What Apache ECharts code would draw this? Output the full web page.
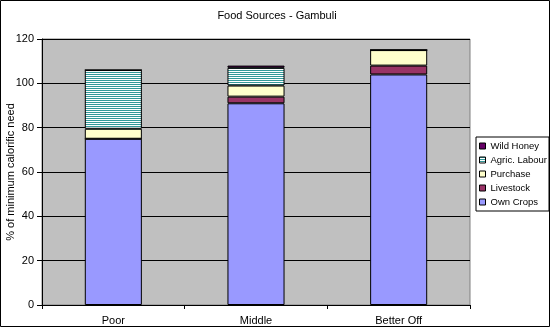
<!DOCTYPE html>
<html><head><meta charset="utf-8">
<script src="https://cdn.jsdelivr.net/npm/echarts@6/dist/echarts.min.js"></script>
<style>html,body{margin:0;padding:0;background:#fff}#c{width:550px;height:327px}</style>
</head><body><div id="c"></div>
<script>
const categories = ['Poor', 'Middle', 'Better Off'];
const ownCrops = [75, 91, 104];
const livestock = [0, 3, 4];
const purchase = [4.5, 5, 7];
const agricLabour = [26.5, 8, 0];
const wildHoney = [0, 1, 0];
const yTicks = [0, 20, 40, 60, 80, 100, 120];

const pc = document.createElement('canvas');
pc.width = 2; pc.height = 2;
const px = pc.getContext('2d');
px.fillStyle = '#339999'; px.fillRect(0, 0, 2, 1);
px.fillStyle = '#FFFFFF'; px.fillRect(0, 1, 2, 1);
const stripe = { image: pc, repeat: 'repeat' };

const font = 'Arial, "Liberation Sans", sans-serif';
const chart = echarts.init(document.getElementById('c'), null, { renderer: 'canvas' });
function s(name, data, color) {
  return { name, type: 'bar', stack: 'a', data, barWidth: '40%',
    itemStyle: { color, borderColor: '#000', borderWidth: 1 }, emphasis: { disabled: true } };
}
chart.setOption({
  animation: false,
  textStyle: { fontFamily: font },
  title: { text: 'Food Sources - Gambuli', left: 272, top: 5, textAlign: 'center',
    textStyle: { fontSize: 11, fontWeight: 'normal', color: '#000', fontFamily: font } },
  grid: { left: 42, right: 80, top: 39, bottom: 22, show: true, backgroundColor: '#C0C0C0',
    borderColor: '#808080', borderWidth: 1, containLabel: false, outerBoundsMode: 'none' },
  legend: {
    orient: 'vertical', left: 476, top: 137, itemWidth: 6, itemHeight: 6, itemGap: 2,
    padding: [3, 2, 3, 3], backgroundColor: '#fff', borderColor: '#000', borderWidth: 1,
    borderRadius: 0, icon: 'rect',
    textStyle: { fontSize: 9.5, color: '#000', lineHeight: 12, fontFamily: font },
    itemStyle: { borderColor: '#000', borderWidth: 1 },
    data: ['Wild Honey', 'Agric. Labour', 'Purchase', 'Livestock', 'Own Crops']
  },
  xAxis: { type: 'category', data: categories,
    axisLine: { lineStyle: { color: '#000' } },
    axisTick: { show: true, length: 4, lineStyle: { color: '#000' } },
    axisLabel: { color: '#000', fontSize: 11, margin: 10, fontFamily: font } },
  yAxis: { type: 'value', min: yTicks[0], max: yTicks[yTicks.length - 1], interval: 20,
    name: '% of minimum calorific need', nameLocation: 'middle', nameGap: 26, nameRotate: 90,
    nameMoveOverlap: false,
    nameTextStyle: { fontSize: 11, color: '#000', fontFamily: font },
    axisLine: { show: true, lineStyle: { color: '#000' } },
    axisTick: { show: true, length: 5, lineStyle: { color: '#000' } },
    splitLine: { show: true, lineStyle: { color: '#000', width: 1 } },
    axisLabel: { color: '#000', fontSize: 11, margin: 8, fontFamily: font } },
  series: [
    s('Own Crops', ownCrops, '#9999FF'),
    s('Livestock', livestock, '#993366'),
    s('Purchase', purchase, '#FFFFCC'),
    s('Agric. Labour', agricLabour, stripe),
    s('Wild Honey', wildHoney, '#660066')
  ],
  graphic: [{ type: 'rect', shape: { x: 0.5, y: 0.5, width: 549, height: 326 },
    style: { fill: 'none', stroke: '#000', lineWidth: 1 }, silent: true }]
});
</script></body></html>
